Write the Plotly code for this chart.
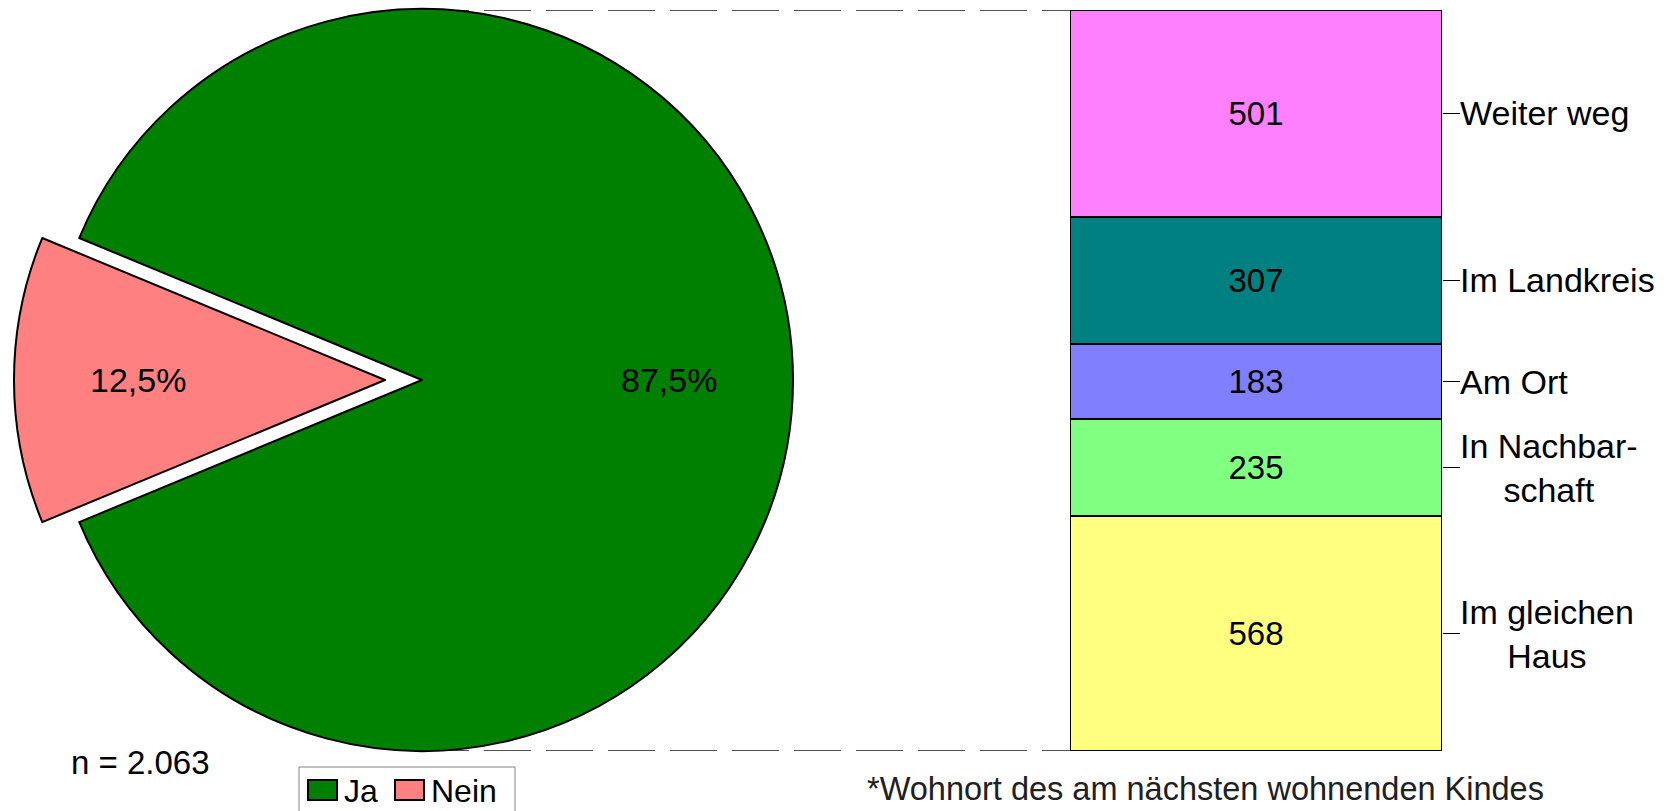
import math
import plotly.graph_objects as go

W, H = 1672, 811

# Share of respondents with children (n = 2.063)
pie_labels = ["Ja", "Nein"]
pie_values = [1805, 258]
pie_colors = ["#008000", "#FF8080"]

# Place of residence of the nearest child, stacked bottom to top
bar_labels = ["Im gleichen<br>Haus", "In Nachbar-<br>schaft", "Am Ort", "Im Landkreis", "Weiter weg"]
bar_values = [568, 235, 183, 307, 501]
bar_colors = ["#FFFF80", "#80FF80", "#8080FF", "#008080", "#FF80FF"]

footnote = "*Wohnort des am nächsten wohnenden Kindes"

FONT = "Arial, Liberation Sans, sans-serif"
CLEAR = "rgba(0,0,0,0)"


def px(x):
    return x / W


def py(y):
    return 1 - y / H


# pie geometry in pixels
cx, cy, r = 422, 380, 371
explode = 37            # shift of the "Nein" slice
ROTATION = -67.5        # start angle of the first slice (clockwise from 12 o'clock)
LABEL_R = 0.665         # radial position of the percentage labels

fig = go.Figure()

pie_common = dict(
    labels=pie_labels,
    values=pie_values,
    sort=False,
    direction="clockwise",
    rotation=ROTATION,
    textinfo="none",
    showlegend=False,
    hoverinfo="label+percent",
)

# main body of the pie ("Ja")
fig.add_trace(go.Pie(
    **pie_common,
    domain=dict(x=[px(cx - r), px(cx + r)], y=[py(cy + r), py(cy - r)]),
    marker=dict(colors=[pie_colors[0], CLEAR],
                line=dict(color=["black", CLEAR], width=[2, 0])),
))

# exploded slice ("Nein"), shifted to the left
fig.add_trace(go.Pie(
    **pie_common,
    domain=dict(x=[px(cx - explode - r), px(cx - explode + r)], y=[py(cy + r), py(cy - r)]),
    marker=dict(colors=[CLEAR, pie_colors[1]],
                line=dict(color=[CLEAR, "black"], width=[0, 2])),
))

# percentage labels at the middle angle of each slice
pie_total = sum(pie_values)
centers_x = [cx, cx - explode]
start = ROTATION
for v, ccx in zip(pie_values, centers_x):
    share = v / pie_total
    mid = math.radians(start + 180 * share)
    start += 360 * share
    lx = ccx + LABEL_R * r * math.sin(mid)
    ly = cy - LABEL_R * r * math.cos(mid)
    fig.add_annotation(
        xref="paper", yref="paper", x=px(lx), y=py(ly),
        text=f"{100 * share:.1f}%".replace(".", ","),
        xanchor="center", yanchor="middle", showarrow=False,
        font=dict(family=FONT, size=34, color="black"),
    )

# stacked column
for lab, val, col in zip(bar_labels, bar_values, bar_colors):
    fig.add_trace(go.Bar(
        x=[""], y=[val], name=lab.replace("<br>", " "),
        marker=dict(color=col, line=dict(color="black", width=2)),
        text=[val], textposition="inside", insidetextanchor="middle",
        textfont=dict(family=FONT, size=33, color="black"),
        showlegend=False, hoverinfo="name+y",
    ))

total = sum(bar_values)
mids = []
acc = 0
for v in bar_values:
    mids.append(acc + v / 2)
    acc += v

bar_x0, bar_x1 = 1070, 1442
bar_top, bar_bottom = 10, 751

fig.update_layout(
    width=W, height=H, autosize=False,
    margin=dict(l=0, r=0, t=0, b=0, pad=0),
    paper_bgcolor="white", plot_bgcolor="white",
    barmode="stack", bargap=0,
    separators=",.",
    font=dict(family=FONT, size=32, color="black"),
    xaxis=dict(domain=[px(bar_x0), px(bar_x1)], range=[-0.5, 0.5],
               showticklabels=False, showgrid=False, zeroline=False,
               showline=False, ticks=""),
    yaxis=dict(domain=[py(bar_bottom), py(bar_top)], range=[0, total],
               side="right", tickvals=mids, ticks="outside", ticklen=17,
               tickwidth=1, tickcolor="black", showticklabels=False,
               showgrid=False, zeroline=False, showline=False),
)

# category labels to the right of the column
for lab, m in zip(bar_labels, mids):
    fig.add_annotation(
        xref="paper", yref="y", x=px(1458), y=m, text=lab,
        xanchor="left", yanchor="middle", align="center", showarrow=False,
        font=dict(family=FONT, size=34, color="black"),
    )

# dashed connectors from the pie to the column
for yv in (0, total):
    fig.add_shape(
        type="line", xref="paper", yref="y",
        x0=px(cx), x1=px(bar_x0), y0=yv, y1=yv, layer="below",
        line=dict(color="#1a1a1a", width=1.4, dash="47px,15px"),
    )

fig.add_annotation(
    xref="paper", yref="paper", x=px(69), y=py(762),
    text="n = " + f"{pie_total:,}".replace(",", "."),
    xanchor="left", yanchor="middle", showarrow=False,
    font=dict(family=FONT, size=33, color="black"),
)

fig.add_annotation(
    xref="paper", yref="paper", x=px(865), y=py(789), text=footnote,
    xanchor="left", yanchor="middle", showarrow=False,
    font=dict(family=FONT, size=32.5, color="#202020"),
)

# legend box with swatches
fig.add_shape(type="rect", xref="paper", yref="paper",
              x0=px(299), x1=px(515), y0=py(767), y1=py(840),
              line=dict(color="#808080", width=1), fillcolor="white")
legend_x = [(308, 342), (395, 429)]
for (sx, tx), lab, col in zip(legend_x, pie_labels, pie_colors):
    fig.add_shape(type="rect", xref="paper", yref="paper",
                  x0=px(sx), x1=px(sx + 29), y0=py(800), y1=py(780),
                  line=dict(color="black", width=2), fillcolor=col)
    fig.add_annotation(
        xref="paper", yref="paper", x=px(tx), y=py(791), text=lab,
        xanchor="left", yanchor="middle", showarrow=False,
        font=dict(family=FONT, size=32, color="black"),
    )

fig.write_html("out.html")
